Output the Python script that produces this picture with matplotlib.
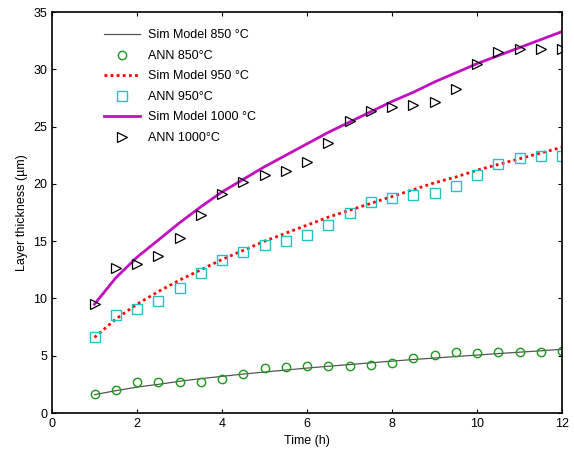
import matplotlib
matplotlib.use('Agg')
import matplotlib.pyplot as plt

plt.rcParams['font.family'] = ['Liberation Sans', 'DejaVu Sans']

# time points (h)
time_h = [1, 1.5, 2, 2.5, 3, 3.5, 4, 4.5, 5, 5.5, 6, 6.5, 7, 7.5, 8, 8.5,
          9, 9.5, 10, 10.5, 11, 11.5, 12]

# simulation model curves
sim_850 = [1.6, 1.95, 2.26, 2.5, 2.77, 3.0, 3.2, 3.4, 3.58, 3.75, 3.92, 4.08,
           4.23, 4.38, 4.53, 4.67, 4.8, 4.93, 5.06, 5.19, 5.31, 5.43, 5.56]
sim_950 = [6.6, 8.2, 9.5, 10.6, 11.6, 12.5, 13.4, 14.2, 15.0, 15.7, 16.4, 17.1,
           17.7, 18.3, 18.9, 19.5, 20.1, 20.6, 21.2, 21.7, 22.2, 22.7, 23.2]
sim_1000 = [9.5, 11.8, 13.6, 15.1, 16.6, 18.0, 19.3, 20.4, 21.5, 22.5, 23.5, 24.5,
            25.4, 26.3, 27.2, 28.0, 28.9, 29.7, 30.5, 31.2, 31.9, 32.6, 33.3]

# ANN predictions
ann_850 = [1.7, 2.0, 2.7, 2.7, 2.75, 2.75, 2.95, 3.4, 3.95, 4.05, 4.1, 4.1,
           4.1, 4.2, 4.4, 4.8, 5.05, 5.3, 5.25, 5.35, 5.35, 5.35, 5.4]
ann_950 = [6.6, 8.55, 9.05, 9.8, 10.95, 12.2, 13.35, 14.1, 14.7, 15.0, 15.55, 16.45,
           17.5, 18.4, 18.75, 19.0, 19.25, 19.85, 20.8, 21.75, 22.25, 22.4, 22.4]
ann_1000 = [9.5, 12.65, 13.0, 13.75, 15.3, 17.3, 19.15, 20.2, 20.8, 21.1, 21.9, 23.6,
            25.5, 26.4, 26.7, 26.85, 27.15, 28.3, 30.5, 31.5, 31.8, 31.8, 31.8]

fig = plt.figure(figsize=(5.74, 4.54), dpi=100)
ax = fig.add_axes([0.0906, 0.0903, 0.8885, 0.883])

ax.plot(time_h, sim_850, color='#555555', lw=0.9, label='Sim Model 850 °C')
ax.plot(time_h, ann_850, 'o', mfc='none', mec='#1a9a1a', ms=6, mew=1,
        label='ANN 850°C', ls='none')
ax.plot(time_h, sim_950, color='red', lw=2, ls=(0, (1, 1.2)), label='Sim Model 950 °C')
ax.plot(time_h, ann_950, 's', mfc='none', mec='#1fc4c4', ms=6.5, mew=1,
        label='ANN 950°C', ls='none')
ax.plot(time_h, sim_1000, color='#c010c0', lw=2, label='Sim Model 1000 °C')
ax.plot(time_h, ann_1000, '>', mfc='none', mec='black', ms=7, mew=0.9,
        label='ANN 1000°C', ls='none')

ax.set_xlim(0, 12)
ax.set_ylim(0, 35)
ax.set_xticks(range(0, 13, 2))
ax.set_yticks(range(0, 36, 5))
ax.tick_params(direction='in', top=True, right=True, labelsize=9, length=3)
for s in ax.spines.values():
    s.set_linewidth(1.2)
ax.set_xlabel('Time (h)', fontsize=9)
ax.set_ylabel('Layer thickness (µm)', fontsize=9)

ax.legend(loc='upper left', bbox_to_anchor=(0.08, 0.985), frameon=False,
          fontsize=9, handlelength=2.9, handletextpad=0.6, labelspacing=0.68)

fig.savefig('out.png', dpi=100)
